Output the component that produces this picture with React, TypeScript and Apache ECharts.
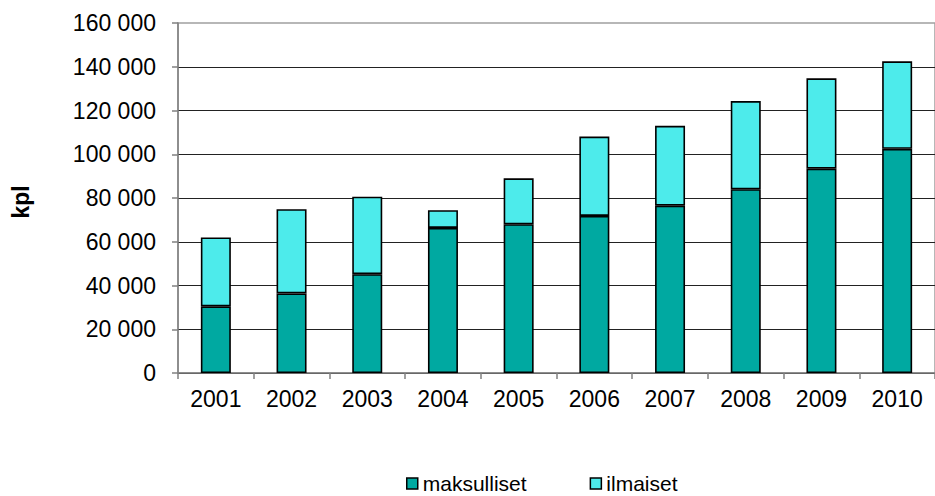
import React, { useEffect, useRef } from "react";
import * as echarts from "echarts";

const years = ["2001", "2002", "2003", "2004", "2005", "2006", "2007", "2008", "2009", "2010"];
const maksulliset = [30500, 36400, 45200, 66300, 68000, 71800, 76500, 84000, 93400, 102500];
const totals = [62000, 74900, 80600, 74400, 89000, 108100, 113000, 124300, 134700, 142500];
const ilmaiset = totals.map((t, i) => t - maksulliset[i]);

const FONT = "Liberation Sans, Arial, sans-serif";

const fmt = (v: number) => String(v).replace(/\B(?=(\d{3})+(?!\d))/g, " ");

export default function App() {
  const ref = useRef<HTMLDivElement>(null);
  useEffect(() => {
    if (!ref.current) return;
    const chart = echarts.init(ref.current, undefined, { renderer: "svg" });
    chart.setOption({
      animation: false,
      backgroundColor: "#ffffff",
      textStyle: { fontFamily: FONT },
      grid: {
        left: 178,
        top: 23,
        width: 762,
        height: 350,
        show: true,
        borderColor: "#a0a0a0",
        borderWidth: 1.5,
        containLabel: false,
      },
      legend: {
        left: 406,
        top: 473,
        padding: 0,
        itemWidth: 11,
        itemHeight: 11,
        itemGap: 63,
        icon: "rect",
        textStyle: { fontFamily: FONT, fontSize: 21, lineHeight: 20, color: "#000" },
        data: [
          { name: "maksulliset", itemStyle: { borderColor: "#000", borderWidth: 1.5 } },
          { name: "ilmaiset", itemStyle: { borderColor: "#000", borderWidth: 1.5 } },
        ],
      },
      xAxis: {
        type: "category",
        data: years,
        axisLine: { lineStyle: { color: "#808080", width: 1.5 } },
        axisTick: { show: true, length: 6, lineStyle: { color: "#808080", width: 1.5 } },
        axisLabel: { fontFamily: FONT, fontSize: 23, color: "#000", margin: 14 },
      },
      yAxis: {
        type: "value",
        min: 0,
        max: 160000,
        interval: 20000,
        name: "kpl",
        nameLocation: "middle",
        nameGap: 146,
        nameRotate: 90,
        nameTextStyle: { fontFamily: FONT, fontSize: 23, fontWeight: "bold", color: "#000", padding: [0, 0, 0, -8] },
        axisLine: { show: true, lineStyle: { color: "#808080", width: 1.5 } },
        axisTick: { show: true, length: 6, lineStyle: { color: "#808080", width: 1.5 } },
        axisLabel: { fontFamily: FONT, fontSize: 23, color: "#000", margin: 22, formatter: (v: number) => fmt(v) },
        splitLine: { show: true, showMaxLine: false, lineStyle: { color: "#222", width: 1.2 } },
      },
      series: [
        {
          name: "maksulliset",
          type: "bar",
          stack: "total",
          barWidth: 30,
          data: maksulliset,
          itemStyle: { color: "#00A9A1", borderColor: "#000", borderWidth: 1.6 },
        },
        {
          name: "ilmaiset",
          type: "bar",
          stack: "total",
          barWidth: 30,
          data: ilmaiset,
          itemStyle: { color: "#4DEBEB", borderColor: "#000", borderWidth: 1.6 },
        },
      ],
    });
    return () => chart.dispose();
  }, []);
  return <div ref={ref} style={{ width: 935, height: 496, position: "absolute", left: 0, top: 0 }} />;
}
